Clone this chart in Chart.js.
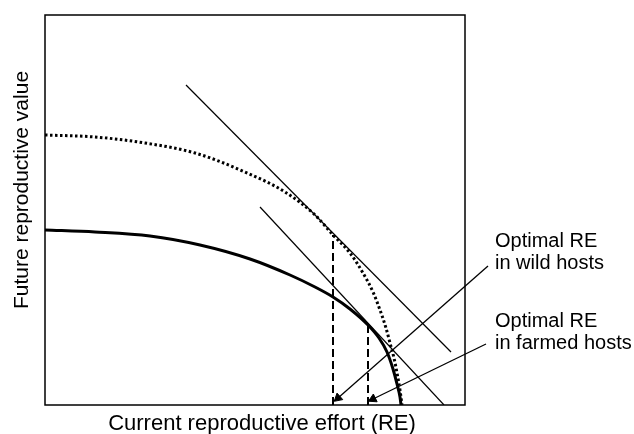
<!DOCTYPE html>
<html>
<head>
<meta charset="utf-8">
<script src="https://cdn.jsdelivr.net/npm/chart.js"></script>
<style>
  body { margin: 0; background: #fff; }
</style>
</head>
<body>
<canvas id="tradeoff" width="634" height="434"></canvas>
<script>
// effort runs 0..420 along the box, future value 0..390 up the box
const wildEffort = [0, 50, 100, 150, 200, 240, 270, 288, 305, 318, 328, 335, 341, 345, 349, 352, 355, 357];
const wildValue  = [270, 268, 262, 252, 233, 213, 190, 170, 152, 132, 113, 95, 77, 62, 47, 32, 15, 0];

const farmedEffort = [0, 50, 105, 155, 205, 245, 270, 288, 305, 323, 334, 342, 348, 352, 355, 356];
const farmedValue  = [175, 173, 169, 160, 146, 130, 118, 108, 96, 80, 67, 53, 36, 21, 8, 0];

// tangent lines
const wildTangentX = [141, 406];
const wildTangentY = [320, 53];
const farmedTangentX = [215, 399];
const farmedTangentY = [198, 0];

// optimal effort drop lines
const wildOptX = [288, 288];
const wildOptY = [0, 170];
const farmedOptX = [323, 323];
const farmedOptY = [0, 80];

// label arrows (start at the label, end at the axis)
const wildArrowX = [443, 293];
const wildArrowY = [139, 7];
const farmedArrowX = [441, 328];
const farmedArrowY = [61, 6];

const xTitle = 'Current reproductive effort (RE)';
const yTitle = 'Future reproductive value';
const wildLabel = ['Optimal RE', 'in wild hosts'];
const farmedLabel = ['Optimal RE', 'in farmed hosts'];

const FONT = '"Liberation Sans", Arial, sans-serif';

function pts(xs, ys) {
  return xs.map((x, i) => ({ x: x, y: ys[i] }));
}

// head rotation so the triangle points along the arrow (screen y goes down)
function headAngle(xs, ys) {
  const dx = xs[1] - xs[0];
  const dy = -(ys[1] - ys[0]);
  return Math.atan2(dx, -dy) * 180 / Math.PI;
}

function arrow(xs, ys) {
  return {
    data: pts(xs, ys),
    borderColor: '#000',
    borderWidth: 1.3,
    clip: false,
    pointRadius: [0, 5],
    pointStyle: 'triangle',
    pointRotation: [0, headAngle(xs, ys)],
    pointBackgroundColor: '#000',
    pointBorderColor: '#000',
    pointBorderWidth: 1
  };
}

const boxAndText = {
  id: 'boxAndText',
  afterDraw(chart) {
    const ctx = chart.ctx;
    const a = chart.chartArea;
    ctx.save();
    ctx.strokeStyle = '#000';
    ctx.lineWidth = 1.5;
    ctx.strokeRect(a.left, a.top, a.right - a.left, a.bottom - a.top);

    ctx.fillStyle = '#000';
    ctx.textBaseline = 'alphabetic';
    ctx.textAlign = 'center';
    ctx.font = '22px ' + FONT;
    ctx.fillText(xTitle, 262, 430);

    ctx.save();
    ctx.translate(28, 190);
    ctx.rotate(-Math.PI / 2);
    ctx.font = '21px ' + FONT;
    ctx.fillText(yTitle, 0, 0);
    ctx.restore();

    ctx.textAlign = 'left';
    ctx.font = '20px ' + FONT;
    ctx.fillText(wildLabel[0], 495, 247);
    ctx.fillText(wildLabel[1], 495, 269);
    ctx.fillText(farmedLabel[0], 495, 327);
    ctx.fillText(farmedLabel[1], 495, 349);
    ctx.restore();
  }
};

new Chart(document.getElementById('tradeoff'), {
  type: 'line',
  data: {
    datasets: [
      {
        data: pts(wildEffort, wildValue),
        borderColor: '#000',
        borderWidth: 3,
        borderDash: [2.5, 2.5],
        cubicInterpolationMode: 'monotone',
        pointRadius: 0
      },
      {
        data: pts(farmedEffort, farmedValue),
        borderColor: '#000',
        borderWidth: 3,
        cubicInterpolationMode: 'monotone',
        pointRadius: 0
      },
      { data: pts(wildTangentX, wildTangentY), borderColor: '#000', borderWidth: 1.2, pointRadius: 0 },
      { data: pts(farmedTangentX, farmedTangentY), borderColor: '#000', borderWidth: 1.2, pointRadius: 0 },
      { data: pts(wildOptX, wildOptY), borderColor: '#000', borderWidth: 2, borderDash: [8, 4], pointRadius: 0 },
      { data: pts(farmedOptX, farmedOptY), borderColor: '#000', borderWidth: 2, borderDash: [8, 4], pointRadius: 0 },
      arrow(wildArrowX, wildArrowY),
      arrow(farmedArrowX, farmedArrowY)
    ]
  },
  options: {
    responsive: false,
    animation: false,
    events: [],
    layout: { padding: { left: 45, top: 15, right: 169, bottom: 29 } },
    plugins: {
      legend: { display: false },
      tooltip: { enabled: false }
    },
    scales: {
      x: { type: 'linear', min: 0, max: 420, display: false },
      y: { type: 'linear', min: 0, max: 390, display: false }
    }
  },
  plugins: [boxAndText]
});
</script>
</body>
</html>
